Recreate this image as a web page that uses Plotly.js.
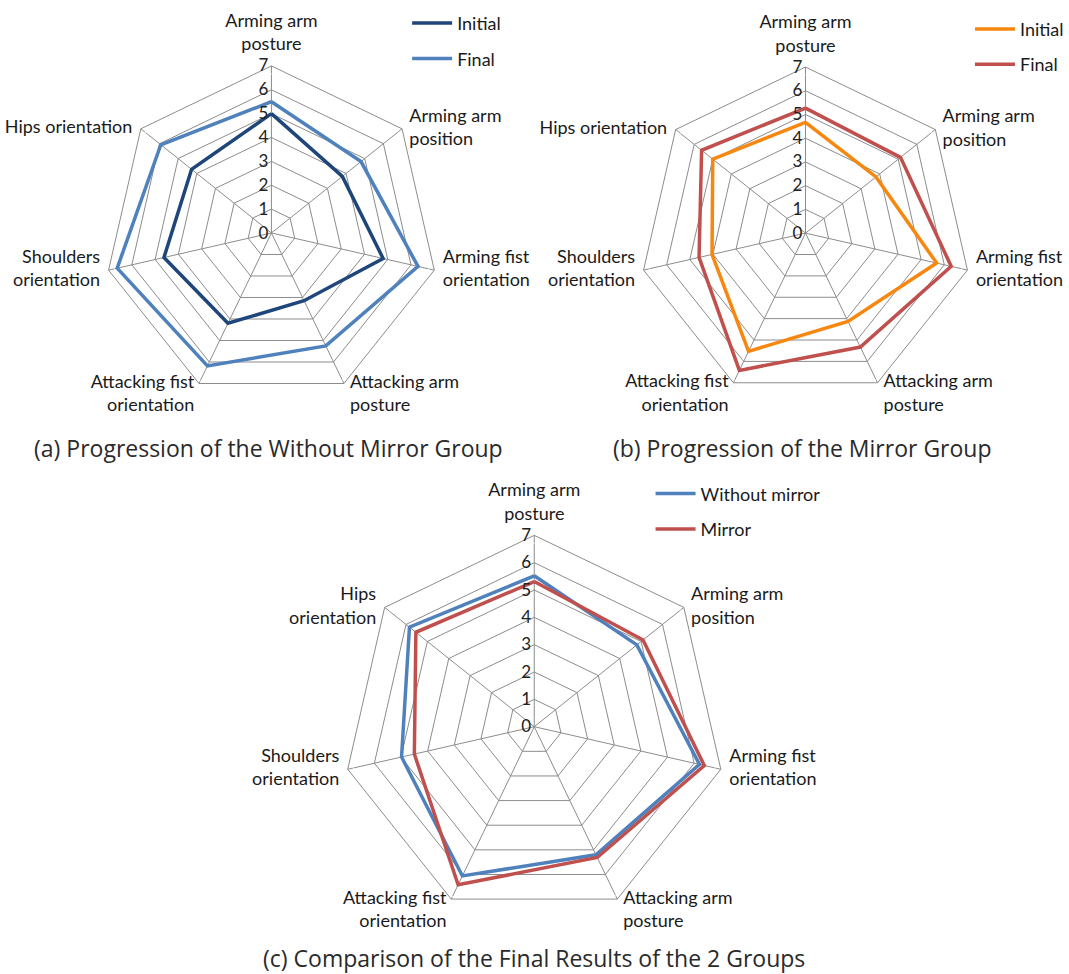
<!DOCTYPE html>
<html>
<head>
<meta charset="utf-8">
<script src="https://cdn.plot.ly/plotly-3.0.1.min.js"></script>
<style>html,body{margin:0;padding:0;background:#fff;}#chart{width:1069px;height:974px;}</style>
</head>
<body>
<div id="chart"></div>
<script>
// Categories (clockwise from top)
const categories = ["Arming arm posture", "Arming arm position", "Arming fist orientation",
  "Attacking arm posture", "Attacking fist orientation", "Shoulders orientation", "Hips orientation"];

// Category labels as shown on each chart
const labelsA = ["Arming arm<br>posture", "Arming arm<br>position", "Arming fist<br>orientation",
  "Attacking arm<br>posture", "Attacking fist<br>orientation", "Shoulders<br>orientation", "Hips orientation"];
const labelsB = labelsA;
const labelsC = ["Arming arm<br>posture", "Arming arm<br>position", "Arming fist<br>orientation",
  "Attacking arm<br>posture", "Attacking fist<br>orientation", "Shoulders<br>orientation", "Hips<br>orientation"];

const radialTicks = [0, 1, 2, 3, 4, 5, 6, 7];
const radialMax = 7;

// (a) Without Mirror Group
const aInitial = [5.0, 3.8, 4.8, 3.15, 4.2, 4.62, 4.28];
const aFinal   = [5.5, 4.8, 6.3, 5.25, 6.18, 6.63, 5.93];
// (b) Mirror Group
const bInitial = [4.67, 3.8, 5.67, 4.13, 5.53, 4.04, 5.0];
const bFinal   = [5.27, 5.12, 6.3, 5.33, 6.42, 4.6, 5.6];
// (c) Final comparison
const cWithout = [5.52, 4.8, 6.2, 5.2, 6.06, 4.98, 5.84];
const cMirror  = [5.31, 5.09, 6.38, 5.31, 6.42, 4.5, 5.54];

const captions = ["(a) Progression of the Without Mirror Group",
  "(b) Progression of the Mirror Group",
  "(c) Comparison of the Final Results of the 2 Groups"];

const close = a => a.concat([a[0]]);

function tr(vals, name, color, subplot, legend, group) {
  return {
    type: 'scatterpolar', mode: 'lines',
    r: close(vals), theta: close(categories),
    name: name, subplot: subplot, legend: legend, legendgroup: group,
    line: {color: color, width: 3.5},
    hoverinfo: 'r+theta'
  };
}

const labelFont = {family: 'Lato, sans-serif', size: 18, color: '#1a1a1a'};
const labelPos = ['top center', 'middle right', 'middle right', 'middle right',
  'middle left', 'middle left', 'middle left'];
// labels below the centre sit half a line lower (leading blank line)
const lowered = [false, false, false, true, true, false, false];

function labelTrace(labels, subplot) {
  return {
    type: 'scatterpolar', mode: 'markers+text', subplot: subplot,
    r: categories.map(() => radialMax), theta: categories,
    text: labels.map((t, i) => lowered[i] ? '\u00a0<br>' + t : t),
    textposition: labelPos, textfont: labelFont,
    marker: {size: [16, 10, 12, 8, 6, 12, 12], color: 'rgba(0,0,0,0)'},
    showlegend: false, hoverinfo: 'skip', cliponaxis: false
  };
}

const data = [
  tr(aInitial, 'Initial', '#1F467A', 'polar', 'legend', 'a1'),
  tr(aFinal, 'Final', '#4F81BD', 'polar', 'legend', 'a2'),
  tr(bInitial, 'Initial', '#F7870F', 'polar2', 'legend2', 'b1'),
  tr(bFinal, 'Final', '#C0504D', 'polar2', 'legend2', 'b2'),
  tr(cWithout, 'Without mirror', '#4F81BD', 'polar3', 'legend3', 'c1'),
  tr(cMirror, 'Mirror', '#C0504D', 'polar3', 'legend3', 'c2'),
  labelTrace(labelsA, 'polar'),
  labelTrace(labelsB, 'polar2'),
  labelTrace(labelsC, 'polar3')
];

const gridCol = '#8c8c8c';

function polar(domx, domy) {
  return {
    domain: {x: domx, y: domy},
    gridshape: 'linear',
    bgcolor: 'rgba(0,0,0,0)',
    radialaxis: {
      range: [0, radialMax], tickmode: 'array', tickvals: radialTicks, ticktext: radialTicks.map(String),
      angle: 90, side: 'counterclockwise', showline: false, ticks: '', tickangle: 90,
      gridcolor: gridCol, gridwidth: 1, tickfont: {family: 'Lato, sans-serif', size: 17, color: '#222'}
    },
    angularaxis: {
      direction: 'clockwise', rotation: 90, type: 'category',
      categoryorder: 'array', categoryarray: categories,
      showline: true, linecolor: gridCol, linewidth: 1, gridcolor: gridCol, gridwidth: 1,
      ticks: '', showticklabels: false
    }
  };
}

function leg(x, y) {
  return {
    x: x, y: y, xanchor: 'left', yanchor: 'top', xref: 'paper', yref: 'paper',
    bgcolor: 'rgba(0,0,0,0)', borderwidth: 0, tracegroupgap: 9,
    font: {family: 'Lato, sans-serif', size: 18, color: '#1a1a1a'},
    itemwidth: 40, traceorder: 'grouped'
  };
}

const capFont = {family: '"Open Sans", sans-serif', size: 23, color: '#2a2a2a'};

const layout = {
  width: 1069, height: 974, autosize: false,
  margin: {l: 0, r: 0, t: 0, b: 0},
  paper_bgcolor: '#fff', plot_bgcolor: '#fff',
  showlegend: true,
  polar: polar([0.0982, 0.4125], [0.5883, 0.9333]),
  polar2: polar([0.6015, 0.9140], [0.5891, 0.9322]),
  polar3: polar([0.3226, 0.6826], [0.0564, 0.4514]),
  legend: leg(0.383, 0.995),
  legend2: leg(0.9125, 0.989),
  legend3: leg(0.612, 0.512),
  annotations: [
    {text: captions[0], x: 0.2526, y: 0.54, xref: 'paper', yref: 'paper', showarrow: false, font: capFont, xanchor: 'center', yanchor: 'middle'},
    {text: captions[1], x: 0.755, y: 0.54, xref: 'paper', yref: 'paper', showarrow: false, font: capFont, xanchor: 'center', yanchor: 'middle'},
    {text: captions[2], x: 0.5026, y: 0.0168, xref: 'paper', yref: 'paper', showarrow: false, font: capFont, xanchor: 'center', yanchor: 'middle'}
  ]
};

Plotly.newPlot('chart', data, layout, {displayModeBar: false, staticPlot: true});
</script>
</body>
</html>
